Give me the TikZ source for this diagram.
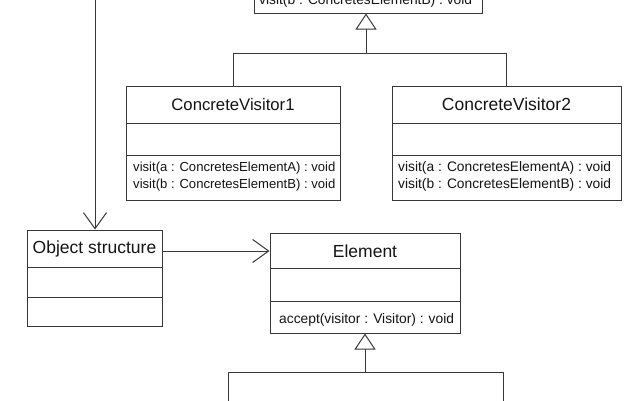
\documentclass[tikz,border=0pt]{standalone}
\usepackage{fontspec}
\setmainfont{Liberation Sans}
\usetikzlibrary{arrows.meta}
\definecolor{lc}{gray}{0.22}
\definecolor{tc}{gray}{0.08}
\begin{document}
\begin{tikzpicture}[x=1pt,y=-1pt,
  box/.style={draw=lc, line width=1pt, fill=white, rectangle, inner sep=0pt},
  sep/.style={draw=lc, line width=1pt},
  conn/.style={draw=lc, line width=1pt},
  nametext/.style={font=\fontsize{17.5}{20}\selectfont, text=tc, inner sep=0pt},
  optext/.style={font=\fontsize{13.8}{16}\selectfont, text=tc, anchor=base west, inner sep=0pt},
  openarrow/.style={-{Straight Barb[length=16pt,width=23pt,line width=1pt]}},
  gen/.style={-{Triangle[open,length=16pt,width=21pt,line width=1pt]}}]
\useasboundingbox (0,0) rectangle (640,400);
\fill[white] (0,0) rectangle (640,400);

% Visitor (top, cut off)
\node[box, minimum width=228pt, minimum height=60pt] (vis) at (368,-17) {};
\node[optext] (visop) at (259,4) {visit(b : ConcretesElementB) : void};

% ConcreteVisitor1
\node[box, minimum width=214pt, minimum height=114pt] (cv1) at (233,143) {};
\draw[sep] (126,123) -- (340,123);
\draw[sep] (126,155) -- (340,155);
\node[nametext, font=\fontsize{16.7}{20}\selectfont] (cv1n) at (233,104.5) {ConcreteVisitor1};
\node[optext, font=\fontsize{13.1}{16}\selectfont] (cv1a) at (133,171) {visit(a : ConcretesElementA) : void};
\node[optext, font=\fontsize{13.1}{16}\selectfont] (cv1b) at (133,188) {visit(b : ConcretesElementB) : void};

% ConcreteVisitor2
\node[box, minimum width=229pt, minimum height=114pt] (cv2) at (506.5,143) {};
\draw[sep] (392,123) -- (621,123);
\draw[sep] (392,155) -- (621,155);
\node[nametext] (cv2n) at (506.5,104.5) {ConcreteVisitor2};
\node[optext] (cv2a) at (398,171) {visit(a : ConcretesElementA) : void};
\node[optext] (cv2b) at (398,188) {visit(b : ConcretesElementB) : void};

% Object structure
\node[box, minimum width=135pt, minimum height=96pt] (os) at (94.5,278) {};
\draw[sep] (27,267) -- (162,267);
\draw[sep] (27,297) -- (162,297);
\node[nametext] (osn) at (94.5,248.5) {Object structure};

% Element
\node[box, minimum width=190pt, minimum height=100pt] (el) at (365,283) {};
\draw[sep] (270,268) -- (460,268);
\draw[sep] (270,301) -- (460,301);
\node[nametext] (eln) at (365,251) {Element};
\node[optext] (elop) at (279,323) {accept(visitor : Visitor) : void};

% connectors
\coordinate (ltop) at (95,0);
\draw[conn, openarrow] (ltop) -- (ltop |- os.north);
\draw[conn, openarrow] (os.east |- eln) -- (eln -| el.west);

\coordinate (j1) at (366,53);
\draw[conn] (cv1.north) |- (j1);
\draw[conn] (cv2.north) |- (j1);
\draw[conn, gen] (j1) -- (j1 |- vis.south);

\coordinate (j2) at (365,372);
\coordinate (bl) at (228,401);
\coordinate (br) at (503,401);
\draw[conn] (bl) |- (j2);
\draw[conn] (br) |- (j2);
\draw[conn, gen] (j2) -- (el.south);
\end{tikzpicture}
\end{document}
